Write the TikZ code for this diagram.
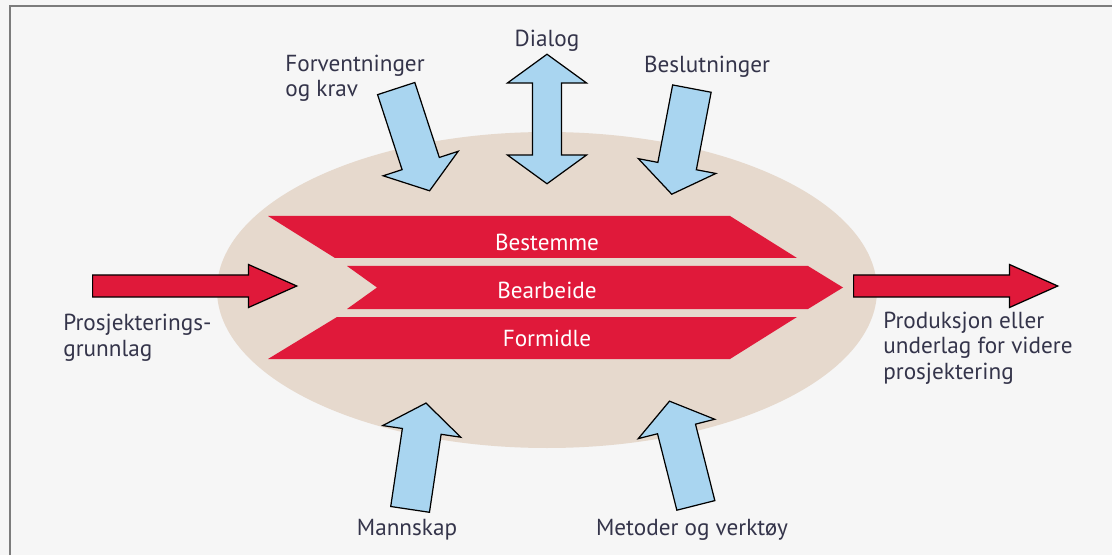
\documentclass[tikz,border=0pt]{standalone}
\usepackage{fontspec}
\setmainfont{PT Sans}
\usetikzlibrary{shapes.arrows}
\definecolor{paper}{HTML}{F6F6F6}
\definecolor{frameline}{HTML}{7C7C7C}
\definecolor{sand}{HTML}{E6D9CD}
\definecolor{signalred}{HTML}{E0193A}
\definecolor{skyblue}{HTML}{A9D5F0}
\definecolor{inkblue}{HTML}{34344A}
\begin{document}
\begin{tikzpicture}[
  x=0.02cm, y=0.02cm,
  every node/.style = {font=\fontsize{13.2}{14.5}\selectfont},
  label text/.style = {text=inkblue, inner sep=0pt, align=left},
  chevtext/.style = {text=white, inner sep=0pt},
  chevron/.style = {fill=signalred},
  bluearrow/.style = {single arrow, draw=black, line width=0.7pt, fill=skyblue,
    inner xsep=0pt, inner ysep=10.8pt, minimum height=61.2pt,
    single arrow head extend=11.3pt, single arrow tip angle=108, anchor=tail},
  dialogarrow/.style = {double arrow, draw=black, line width=0.7pt, fill=skyblue,
    inner xsep=0pt, inner ysep=7.9pt, minimum height=73.7pt,
    double arrow head extend=14.2pt, double arrow tip angle=108},
  redarrow/.style = {single arrow, draw=black, line width=0.7pt, fill=signalred,
    inner xsep=0pt, inner ysep=5.95pt, minimum height=116.2pt,
    single arrow head extend=5.95pt, single arrow tip angle=48, anchor=tail}
  ]
  \useasboundingbox (0,0) rectangle (1112,555);
  \fill[paper] (0,0) rectangle (1112,555);
  \draw[frameline, line width=1.7pt] (10,0) -- (10,549) -- (1112,549);

  \fill[sand] (547,265) ellipse [x radius=330, y radius=158];

  \fill[chevron] (268,339) -- (730,339) -- (797,297) -- (335,297) -- cycle;
  \fill[chevron] (347,289) -- (808,289) -- (843,267.5) -- (808,246)
    -- (347,246) -- (377,267.5) -- cycle;
  \fill[chevron] (337,238) -- (797,238) -- (730,196) -- (268,196) -- cycle;
  \node[chevtext] (bestemme) at (547,313) {Bestemme};
  \node[chevtext] (bearbeide) at (547,265) {Bearbeide};
  \node[chevtext] (formidle) at (547,217) {Formidle};

  \node[redarrow] (inn) at (92,269) {};
  \node[redarrow] (ut) at (853,269) {};

  \node[bluearrow, rotate=-71.9] (forvarrow) at (396,467) {};
  \node[bluearrow, rotate=-100.8] (beslarrow) at (692,467) {};
  \node[bluearrow, rotate=81.5] (mannarrow) at (410,45) {};
  \node[bluearrow, rotate=104.2] (metarrow) at (696,49) {};
  \node[dialogarrow, rotate=90] (dialogarrow) at (547,436) {};

  \node[label text, anchor=base west] (forv) at (285,458) {Forventninger\\og krav};
  \node[label text, anchor=base] (dialog) at (547,508) {Dialog};
  \node[label text, anchor=base] (besl) at (707,482) {Beslutninger};
  \node[label text, anchor=base west] (grunnlag) at (63,199) {Prosjekterings-\\grunnlag};
  \node[label text, anchor=base west] (produksjon) at (883,176)
    {Produksjon eller\\underlag for videre\\prosjektering};
  \node[label text, anchor=base] (mannskap) at (407,20) {Mannskap};
  \node[label text, anchor=base] (metoder) at (692,20) {Metoder og verktøy};
\end{tikzpicture}
\end{document}
